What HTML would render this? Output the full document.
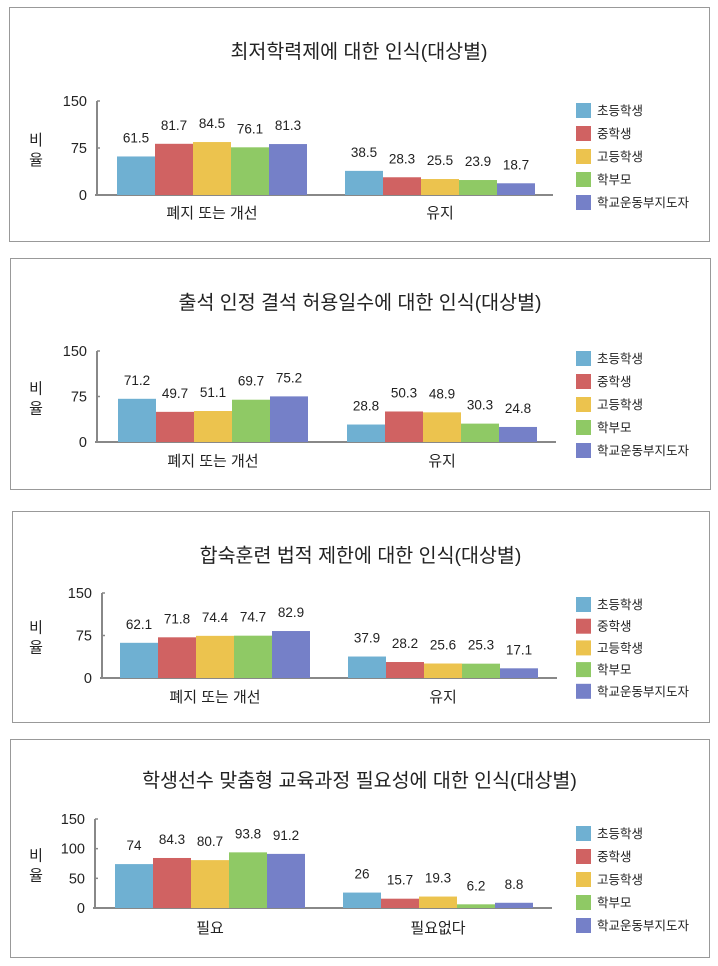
<!DOCTYPE html>
<html><head><meta charset="utf-8"><style>
html,body{margin:0;padding:0;background:#fff;}
svg{display:block;font-family:"Liberation Sans","Noto Sans CJK KR","NanumGothic",sans-serif;}
</style></head><body>
<svg id="s" width="718" height="966" viewBox="0 0 718 966" xmlns="http://www.w3.org/2000/svg"></svg>
<script>
const C=["#6fb0d2","#d06262","#ecc34e","#8fc965","#7580c8"];
const L=["초등학생","중학생","고등학생","학부모","학교운동부지도자"];
const P=[
 {box:[9,7,700,234],title:"최저학력제에 대한 인식(대상별)",ty:58,ax:97,top:101,bot:195,ticks:[0,75,150],g1:117,g2:345,end:553,cats:["폐지 또는 개선","유지"],cy:218,d:[[61.5,81.7,84.5,76.1,81.3],[38.5,28.3,25.5,23.9,18.7]],leg:103,ls:23,ly:160},
 {box:[10,258,700,231],title:"출석 인정 결석 허용일수에 대한 인식(대상별)",ty:309,ax:97,top:351,bot:442,ticks:[0,75,150],g1:118,g2:347,end:556,cats:["폐지 또는 개선","유지"],cy:466,d:[[71.2,49.7,51.1,69.7,75.2],[28.8,50.3,48.9,30.3,24.8]],leg:351,ls:23,ly:404},
 {box:[12,511,697,211],title:"합숙훈련 법적 제한에 대한 인식(대상별)",ty:562,ax:102,top:593,bot:678,ticks:[0,75,150],g1:120,g2:348,end:557,cats:["폐지 또는 개선","유지"],cy:702,d:[[62.1,71.8,74.4,74.7,82.9],[37.9,28.2,25.6,25.3,17.1]],leg:597,ls:21.7,ly:644},
 {box:[10,739,699,218],title:"학생선수 맞춤형 교육과정 필요성에 대한 인식(대상별)",ty:787,ax:95,top:819,bot:908,ticks:[0,50,100,150],g1:115,g2:343,end:552,cats:["필요","필요없다"],cy:933,d:[[74,84.3,80.7,93.8,91.2],[26,15.7,19.3,6.2,8.8]],leg:826,ls:23,ly:865}
];
let h="";
for(const p of P){
 const [x,y,w,hh]=p.box;
 h+=`<rect x="${x+.5}" y="${y+.5}" width="${w}" height="${hh}" fill="none" stroke="#999" stroke-width="1"/>`;
 h+=`<text x="${x+w/2}" y="${p.ty}" font-size="19.5" text-anchor="middle" fill="#222">${p.title}</text>`;
 const sc=(p.bot-p.top)/150;
 h+=`<line x1="${p.ax}" y1="${p.top}" x2="${p.ax}" y2="${p.bot}" stroke="#888" stroke-width="2"/>`;
 h+=`<line x1="${p.ax-2}" y1="${p.bot}" x2="${p.end}" y2="${p.bot}" stroke="#888" stroke-width="2"/>`;
 for(const t of p.ticks){const ty=p.bot-t*sc;
  h+=`<line x1="${p.ax}" y1="${ty}" x2="${p.ax+3}" y2="${ty}" stroke="#888" stroke-width="1.5"/>`;
  h+=`<text x="${p.ax-10}" y="${ty+5}" font-size="14.5" text-anchor="end" fill="#222">${t}</text>`;}
 const mid=(p.top+p.bot)/2;
 h+=`<text x="36" y="${mid-3}" font-size="15" text-anchor="middle" fill="#222">비</text>`;
 h+=`<text x="36" y="${mid+17}" font-size="15" text-anchor="middle" fill="#222">율</text>`;
 [p.g1,p.g2].forEach((g,gi)=>{
  p.d[gi].forEach((v,i)=>{const bx=g+i*38,bh=v*sc;
   h+=`<rect x="${bx}" y="${p.bot-bh}" width="38" height="${bh}" fill="${C[i]}"/>`;
   h+=`<text x="${bx+19}" y="${p.bot-bh-14}" font-size="13.5" text-anchor="middle" fill="#222">${v}</text>`;});
  h+=`<text x="${g+95}" y="${p.cy}" font-size="15" text-anchor="middle" fill="#222">${p.cats[gi]}</text>`;
 });
 L.forEach((l,i)=>{const ly=p.leg+i*p.ls;
  h+=`<rect x="576" y="${ly}" width="15" height="15" fill="${C[i]}"/>`;
  h+=`<text x="597" y="${ly+12}" font-size="12.5" fill="#222">${l}</text>`;});
}
document.getElementById("s").innerHTML=h;
</script>
</body></html>
